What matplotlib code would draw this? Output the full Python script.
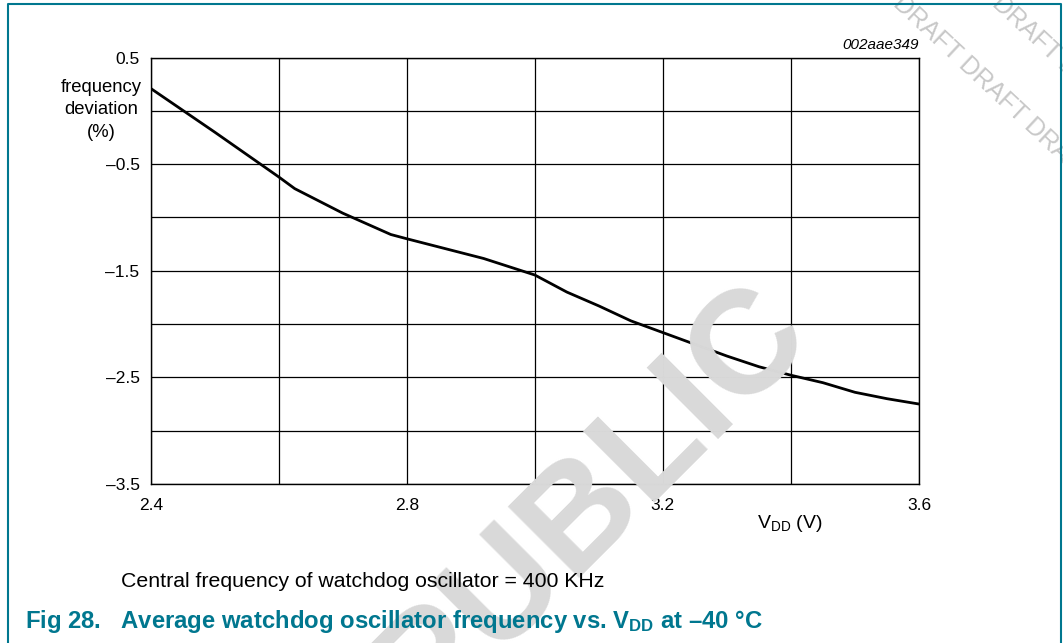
import matplotlib
matplotlib.use("Agg")
import matplotlib.pyplot as plt
from matplotlib.lines import Line2D

plt.rcParams["font.family"] = ["Liberation Sans", "DejaVu Sans"]
plt.rcParams["mathtext.fontset"] = "custom"
plt.rcParams["mathtext.rm"] = "Liberation Sans"
plt.rcParams["mathtext.it"] = "Liberation Sans:italic"
plt.rcParams["mathtext.bf"] = "Liberation Sans:bold"

# supply voltage (V) and frequency deviation (%)
vdd = [2.4, 2.5, 2.6, 2.625, 2.7, 2.775, 2.8, 2.92, 3.0, 3.05, 3.1, 3.15,
       3.2, 3.25, 3.3, 3.35, 3.4, 3.45, 3.5, 3.55, 3.6]
deviation = [0.21, -0.2, -0.62, -0.73, -0.96, -1.16, -1.2, -1.385, -1.54, -1.7,
             -1.83, -1.97, -2.08, -2.19, -2.3, -2.4, -2.48, -2.55, -2.64, -2.7, -2.75]

x_ticks = [2.4, 2.8, 3.2, 3.6]
x_grid = [2.6, 3.0, 3.4]
y_ticks = [0.5, -0.5, -1.5, -2.5, -3.5]
y_grid = [0.0, -1.0, -2.0, -3.0]

W, H = 1063, 643
teal = "#00778f"
wm_gray = "#c8c8c8"


def fx(px):
    return px / W


def fy(py):
    return 1 - py / H


fig = plt.figure(figsize=(W / 100, H / 100), dpi=100)
ax = fig.add_axes([fx(150.7), fy(484), (919 - 150.7) / W, (484 - 57.5) / H])

# watermarks first so they sit behind everything
fig.text(fx(592), fy(502), "PUBLIC", fontsize=106, fontweight="bold",
         color="#d9d9d9", rotation=45, ha="center", va="center", zorder=0)
fig.text(fx(897), fy(0), "DRAFT DRAFT DRAFT", fontsize=18, color=wm_gray,
         rotation=-43, ha="left", va="center", rotation_mode="anchor", zorder=0)
fig.text(fx(996), fy(0), "DRAFT DRAFT", fontsize=18, color=wm_gray,
         rotation=-43, ha="left", va="center", rotation_mode="anchor", zorder=0)

ax.set_facecolor("none")
ax.plot(vdd, deviation, color="black", lw=2.0, zorder=3)

ax.set_xlim(2.4, 3.6)
ax.set_ylim(-3.5, 0.5)
ax.set_xticks(x_ticks)
ax.set_xticks(x_grid, minor=True)
ax.set_yticks(y_ticks)
ax.set_yticks(y_grid, minor=True)
ax.set_xticklabels([f"{v:.1f}" for v in x_ticks])
ax.set_yticklabels([f"{v:.1f}".replace("-", "\u2013") for v in y_ticks])
ax.tick_params(which="both", length=0)
ax.tick_params(axis="x", pad=10, labelsize=12.5)
ax.tick_params(axis="y", pad=8, labelsize=12.5)
ax.grid(which="both", color="black", lw=0.9)
for s in ax.spines.values():
    s.set_linewidth(1.0)

fig.text(fx(101), fy(110), "frequency\ndeviation\n(%)", ha="center", va="center",
         fontsize=13.3, linespacing=1.4)
fig.text(fx(790), fy(523), r"V$_{\mathrm{DD}}$ (V)", ha="center", va="center", fontsize=14)
fig.text(fx(919), fy(45), "002aae349", ha="right", va="center", fontsize=11,
         style="italic")

fig.text(fx(121), fy(587), "Central frequency of watchdog oscillator = 400 KHz",
         ha="left", va="baseline", fontsize=15.3)
title = "Fig 28.   Average watchdog oscillator frequency vs. V$_{\\mathbf{DD}}$ at \u201340 \u00b0C"
fig.text(fx(25), fy(628), title, ha="left", va="baseline", fontsize=17.2,
         fontweight="bold", color=teal)

# teal frame around the figure (open at the bottom)
fig.add_artist(Line2D([fx(8), fx(8), fx(1061), fx(1061)], [0, fy(4), fy(4), 0],
                      transform=fig.transFigure, color=teal, lw=1.5))

fig.savefig("out.png", dpi=100)
